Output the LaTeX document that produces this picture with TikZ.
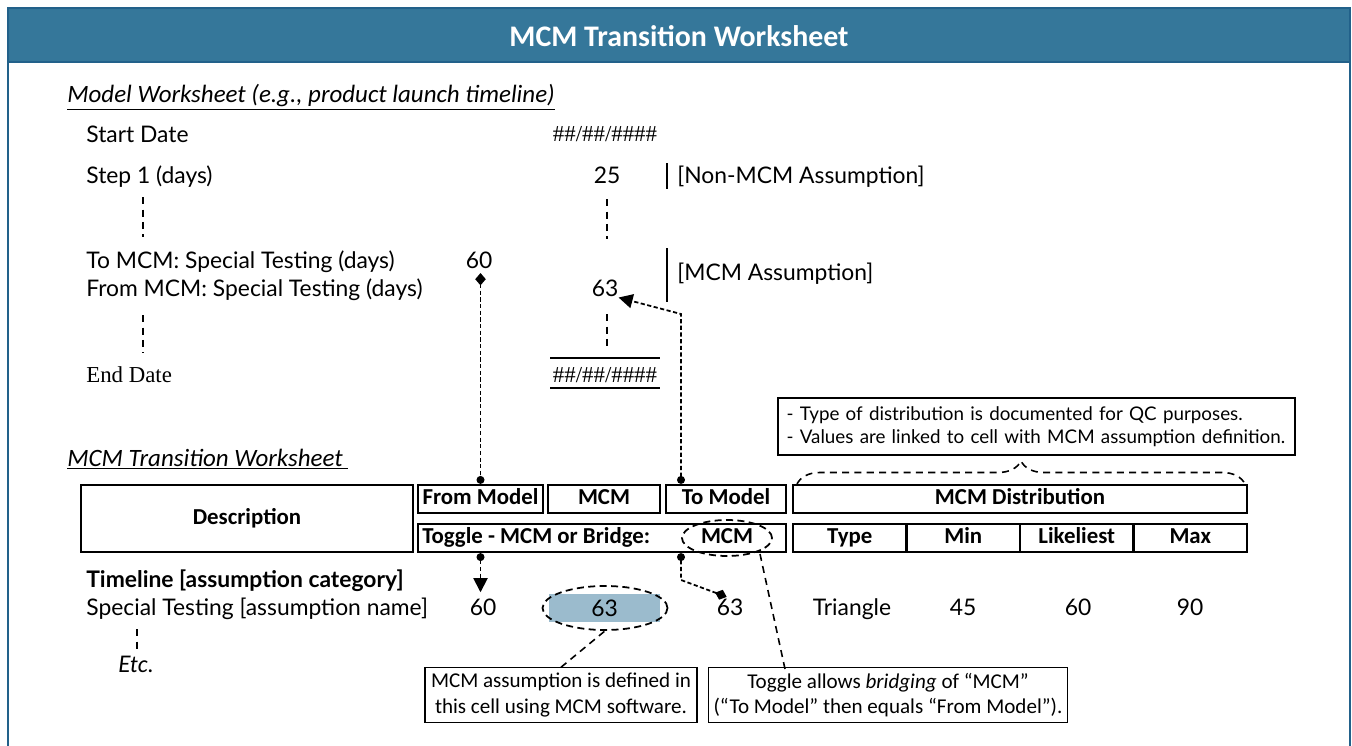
\documentclass[tikz,border=0pt]{standalone}
\usepackage{fontspec}
\setmainfont{Lato}
\newfontfamily\narrowfont{Carlito}
\newfontfamily\timesfont{Liberation Serif}
\usepackage{tikz}
\usetikzlibrary{shapes.geometric,arrows.meta,decorations.pathreplacing}
\definecolor{barblue}{HTML}{35779A}
\definecolor{rimblue}{HTML}{22618A}
\definecolor{cellblue}{HTML}{9BBBCD}
\pgfdeclarelayer{edgelayer}
\pgfdeclarelayer{nodelayer}
\pgfsetlayers{edgelayer,nodelayer,main}
\tikzstyle{none}=[inner sep=0pt]
\tikzstyle{rowtext}=[inner sep=0pt,anchor=base west,font=\fontsize{13}{15}\selectfont]
\tikzstyle{num}=[inner sep=0pt,anchor=base,font=\fontsize{13}{15}\selectfont]
\tikzstyle{heading}=[inner sep=0pt,anchor=base west,font=\narrowfont\itshape\fontsize{14.2}{16}\selectfont]
\tikzstyle{cell}=[rectangle,draw=black,line width=1.3pt,inner sep=0pt,minimum height=0.56cm,text height=9pt,text depth=2.5pt,font=\narrowfont\bfseries\fontsize{13}{15}\selectfont]
\tikzstyle{note}=[rectangle,draw=black,line width=0.7pt,inner sep=3pt,font=\narrowfont\fontsize{12}{14.5}\selectfont,align=center]
\tikzstyle{ring}=[ellipse,draw=black,dash pattern=on 4pt off 2.5pt,line width=1pt,inner sep=0pt]
\tikzstyle{link}=[dash pattern=on 2.4pt off 1.4pt,line width=1pt]
\tikzstyle{gap}=[dash pattern=on 4pt off 3pt,line width=0.9pt]
\tikzstyle{bar}=[line width=1.2pt]

\begin{document}
\begin{tikzpicture}[x=0.02cm,y=-0.02cm]
	\useasboundingbox (0,0) rectangle (1352,746);
	\begin{pgfonlayer}{edgelayer}
		\fill [barblue] (8,8) rectangle (1350,62);
		\draw [rimblue, line width=1pt] (8,746) -- (8,8) -- (1350,8) -- (1350,746);
		\draw [rimblue, line width=1pt] (8,62) -- (1350,62);
	\end{pgfonlayer}
	\begin{pgfonlayer}{nodelayer}
		\node [inner sep=0pt, text=white, font=\narrowfont\bfseries\fontsize{17}{20}\selectfont] (title) at (679,36) {MCM Transition Worksheet};
		\node [style=heading] (modelhead) at (67,103) {\underline{Model Worksheet (e.g., product launch timeline)}};
		\node [style=rowtext] (startlbl) at (86,143) {Start Date};
		\node [style=rowtext] (step1lbl) at (86,184) {Step 1 (days)};
		\node [style=rowtext] (tomcmlbl) at (86,269) {To MCM: Special Testing (days)};
		\node [style=rowtext] (frommcmlbl) at (86,297) {From MCM: Special Testing (days)};
		\node [style=rowtext] (endlbl) at (86,382) {\timesfont End Date};
		\node [style=num] (startval) at (605,142) {\timesfont \#\#/\#\#/\#\#\#\#};
		\node [style=num] (step1val) at (607,184) {25};
		\node [style=num] (tomcmval) at (479,269) {60};
		\node [style=num] (frommcmval) at (605,297) {63};
		\node [style=num] (endval) at (605,382) {\timesfont \#\#/\#\#/\#\#\#\#};
		\node [style=rowtext] (nontag) at (677,184) {[Non-MCM Assumption]};
		\node [style=rowtext] (mcmtag) at (677,281) {[MCM Assumption]};
		\node [style=none] (bar1a) at (667,162) {};
		\node [style=none] (bar1b) at (667,190) {};
		\node [style=none] (bar2a) at (667,247) {};
		\node [style=none] (bar2b) at (667,303) {};
		\node [style=none] (line1l) at (549,358) {};
		\node [style=none] (line1r) at (661,358) {};
		\node [style=none] (line2l) at (549,388) {};
		\node [style=none] (line2r) at (661,388) {};
		\node [style=none] (t1a) at (143,196) {};
		\node [style=none] (t1b) at (143,238) {};
		\node [style=none] (t2a) at (143,314) {};
		\node [style=none] (t2b) at (143,354) {};
		\node [style=none] (v1a) at (607,198) {};
		\node [style=none] (v1b) at (607,240) {};
		\node [style=none] (v2a) at (607,313) {};
		\node [style=none] (v2b) at (607,352) {};
		\node [style=none] (e1a) at (137,628) {};
		\node [style=none] (e1b) at (137,650) {};
		\node [style=none] (knee1) at (681,314) {};
		\node [style=none] (knee2) at (681,580) {};

		\node [style=heading] (tranhead) at (67,466) {\underline{MCM Transition Worksheet\ }};
		\node [style=note, align=left, inner sep=4pt, font=\fontsize{10.7}{13}\selectfont, minimum width=10.34cm, minimum height=1.14cm, text width=10.0cm] (topnote) at (1036.5,426.5) {- Type of distribution is documented for QC purposes.\\- Values are linked to cell with MCM assumption definition.};
		\node [style=none] (bracel) at (797,484) {};
		\node [style=none] (bracer) at (1245,484) {};
		\node [style=cell, minimum width=6.64cm, minimum height=1.34cm] (desc) at (247,518.5) {Description};
		\node [style=cell, minimum width=2.5cm] (fm) at (480.5,499) {From Model};
		\node [style=cell, minimum width=2.24cm] (mcm) at (604,499) {MCM};
		\node [style=cell, minimum width=2.4cm] (tm) at (726,499) {To Model};
		\node [style=cell, minimum width=9.08cm] (dist) at (1020,499) {MCM Distribution};
		\node [style=cell, minimum width=7.36cm] (toggle) at (602,538) {};
		\node [inner sep=0pt, anchor=west, text height=9pt, text depth=2.5pt, font=\narrowfont\bfseries\fontsize{13}{15}\selectfont] (togglelbl) at (422,538) {Toggle - MCM or Bridge:};
		\node [style=ring, minimum width=1.8cm, minimum height=0.72cm, text height=9pt, text depth=2.5pt, font=\narrowfont\bfseries\fontsize{13}{15}\selectfont] (tgell) at (727,538) {MCM};
		\node [style=cell, minimum width=2.27cm] (htype) at (849.75,538) {Type};
		\node [style=cell, minimum width=2.27cm] (hmin) at (963.25,538) {Min};
		\node [style=cell, minimum width=2.27cm] (hlik) at (1076.75,538) {Likeliest};
		\node [style=cell, minimum width=2.27cm] (hmax) at (1190.25,538) {Max};

		\node [style=rowtext, font=\bfseries\fontsize{13}{15}\selectfont] (catlbl) at (86,587) {Timeline [assumption category]};
		\node [style=rowtext] (namelbl) at (86,615) {Special Testing [assumption name]};
		\node [style=num] (r60) at (483,615) {60};
		\node [fill=cellblue, inner sep=0pt, minimum width=2.22cm, minimum height=0.56cm, font=\fontsize{13}{15}\selectfont] (mcmcell) at (604.5,608) {63};
		\node [style=ring, minimum width=2.5cm, minimum height=0.88cm] (ell63) at (605,608) {};
		\node [style=num] (r63) at (730,615) {63};
		\node [style=num] (rtype) at (852,615) {Triangle};
		\node [style=num] (rmin) at (963,615) {45};
		\node [style=num] (rlik) at (1078,615) {60};
		\node [style=num] (rmax) at (1190,615) {90};
		\node [style=rowtext, font=\itshape\fontsize{13}{15}\selectfont] (etc) at (118,672) {Etc.};
		\node [style=note, minimum width=5.44cm, minimum height=1.04cm] (cb1) at (561,695) {MCM assumption is defined in\\this cell using MCM software.};
		\node [style=note, minimum width=7.0cm, minimum height=1.04cm] (cb2) at (888,695) {Toggle allows \textit{bridging} of “MCM”\\(“To Model” then equals “From Model”).};
		\node [style=none] (cb2pin) at (785,669) {};
	\end{pgfonlayer}
	\begin{pgfonlayer}{edgelayer}
		\draw [style=bar] (bar1a) -- (bar1b);
		\draw [style=bar] (bar2a) -- (bar2b);
		\draw [style=bar] (line1l) -- (line1r);
		\draw [style=bar] (line2l) -- (line2r);
		\draw [style=gap] (t1a) -- (t1b);
		\draw [style=gap] (t2a) -- (t2b);
		\draw [style=gap] (v1a) -- (v1b);
		\draw [style=gap] (v2a) -- (v2b);
		\draw [style=gap] (e1a) -- (e1b);
		\draw [style=link, {Diamond[length=7pt,width=6pt]}-{Circle[length=4.5pt]}, shorten <=2pt] (fm.north |- tomcmval.south) -- (fm.north);
		\draw [style=link, {Circle[length=4.5pt]}-{Triangle[length=8pt,width=8pt]}] (tm.north -| knee1) -- (knee1.center) -- (frommcmval.south east);
		\draw [style=link, {Circle[length=4.5pt]}-{Triangle[length=8pt,width=8pt]}, shorten >=-3pt] (fm.north |- toggle.south) -- (fm.north |- catlbl.base);
		\draw [style=link, {Circle[length=4.5pt]}-{Diamond[length=7pt,width=6pt]}, shorten >=2pt] (knee1 |- toggle.south) -- (knee2.center) -- (r63.north);
		\draw [style=gap, decorate, decoration={brace, amplitude=0.46cm}] (bracel.center) -- (bracer.center);
		\draw [style=gap] (cb1.north) -- (ell63.south);
		\draw [style=gap] (cb2pin.center) -- (tgell.south east);
	\end{pgfonlayer}
\end{tikzpicture}
\end{document}
